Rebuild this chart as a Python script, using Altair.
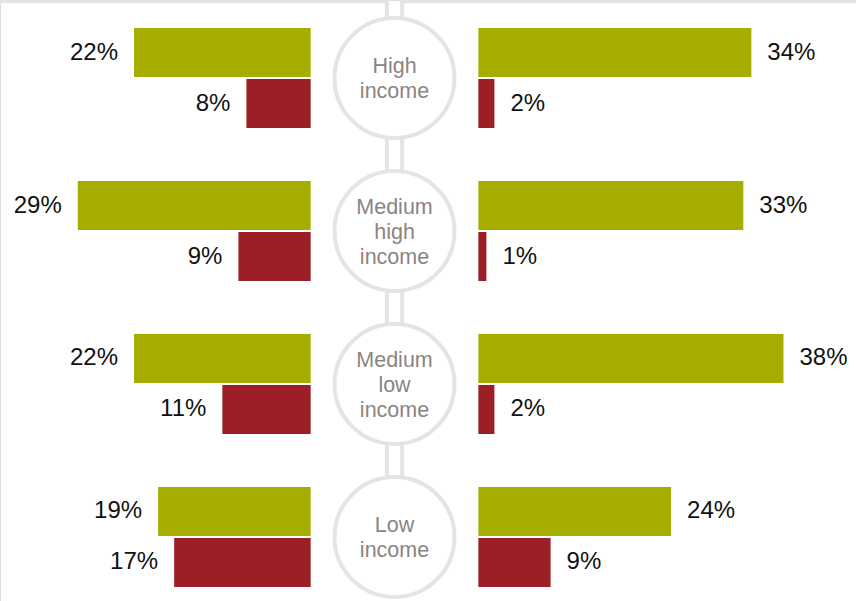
import altair as alt
import pandas as pd

# ---- data ----
groups = ["High income", "Medium high income", "Medium low income", "Low income"]
circle_labels = ["High\nincome", "Medium\nhigh\nincome", "Medium\nlow\nincome", "Low\nincome"]
series = ["green", "red"]
left_green = [22, 29, 22, 19]
left_red = [8, 9, 11, 17]
right_green = [34, 33, 38, 24]
right_red = [2, 1, 2, 9]

GAP = 10.44  # distance (in % units) between centre axis and bar baselines

rows = []
for i, g in enumerate(groups):
    for side, vals_g, vals_r in (("left", left_green, left_red), ("right", right_green, right_red)):
        for s, v in (("green", vals_g[i]), ("red", vals_r[i])):
            if side == "left":
                x0, x1 = -(GAP + v), -GAP
                tx = x0
            else:
                x0, x1 = GAP, GAP + v
                tx = x1
            rows.append(dict(group=g, side=side, series=s, value=v,
                             x0=x0, x1=x1, tx=tx, label=f"{v}%"))
bars_df = pd.DataFrame(rows)
circ_df = pd.DataFrame({
    "group": groups,
    "label": circle_labels,
    "nlines": [lab.count("\n") + 1 for lab in circle_labels],
    "cx": [0] * len(groups),
})

FONT = "Liberation Sans"
LINE = "#e6e4e2"

xs = alt.Scale(domain=[-49.13, 57.47], nice=False, zero=False)
ys = alt.Scale(domain=groups, range=[28, 587], paddingInner=0.3464, paddingOuter=0)
yo = alt.YOffset("series:N", scale=alt.Scale(domain=series, paddingInner=0.0392, paddingOuter=0))
col = alt.Color("series:N", scale=alt.Scale(domain=series, range=["#a5ae00", "#9c1f25"]), legend=None)

base = alt.Chart(bars_df)

bars = base.mark_bar(cornerRadius=0).encode(
    x=alt.X("x0:Q", scale=xs, axis=None),
    x2="x1:Q",
    y=alt.Y("group:N", scale=ys, axis=None, sort=groups),
    yOffset=yo,
    color=col,
)

left_txt = base.transform_filter(alt.datum.side == "left").mark_text(
    align="right", baseline="middle", dx=-16, fontSize=24, font=FONT, color="#111111"
).encode(
    x=alt.X("tx:Q", scale=xs, axis=None),
    y=alt.Y("group:N", scale=ys, axis=None, sort=groups),
    yOffset=yo,
    text="label:N",
)

right_txt = base.transform_filter(alt.datum.side == "right").mark_text(
    align="left", baseline="middle", dx=16, fontSize=24, font=FONT, color="#111111"
).encode(
    x=alt.X("tx:Q", scale=xs, axis=None),
    y=alt.Y("group:N", scale=ys, axis=None, sort=groups),
    yOffset=yo,
    text="label:N",
)

# connector lines (decoration)
conn_df = pd.DataFrame({"cx": [-0.95, 0.95]})
vlines = alt.Chart(conn_df).mark_rule(color=LINE, strokeWidth=4).encode(
    x=alt.X("cx:Q", scale=xs, axis=None),
    y=alt.value(0),
    y2=alt.value(538),
)
top_df = pd.DataFrame({"a": [-60.0, 0.95], "b": [-0.95, 60.0]})
hlines = alt.Chart(top_df).mark_rule(color=LINE, strokeWidth=3.5).encode(
    x=alt.X("a:Q", scale=xs, axis=None),
    x2="b:Q",
    y=alt.value(1.5),
)

circles = alt.Chart(circ_df).mark_point(
    shape="circle", filled=True, fill="white", stroke=LINE, strokeWidth=4,
    size=14400, opacity=1, fillOpacity=1, strokeOpacity=1,
).encode(
    x=alt.X("cx:Q", scale=xs, axis=None),
    y=alt.Y("group:N", scale=ys, axis=None, sort=groups),
)


def circ_text(n, dy):
    return alt.Chart(circ_df).transform_filter(alt.datum.nlines == n).mark_text(
        align="center", baseline="middle", fontSize=21.5, font=FONT, color="#8c8480",
        lineBreak="\n", lineHeight=25, dy=dy,
    ).encode(
        x=alt.X("cx:Q", scale=xs, axis=None),
        y=alt.Y("group:N", scale=ys, axis=None, sort=groups),
        text="label:N",
    )


circ_txt2 = circ_text(2, -11)
circ_txt3 = circ_text(3, -23)

chart = alt.layer(hlines, vlines, circles, circ_txt2, circ_txt3, bars, left_txt, right_txt).properties(
    width=856, height=601,
    autosize=alt.AutoSizeParams(type="none"),
    padding=0,
).configure_view(stroke=None).configure(background="white")

chart.save("out.html", embed_options={"renderer": "svg", "actions": False})
